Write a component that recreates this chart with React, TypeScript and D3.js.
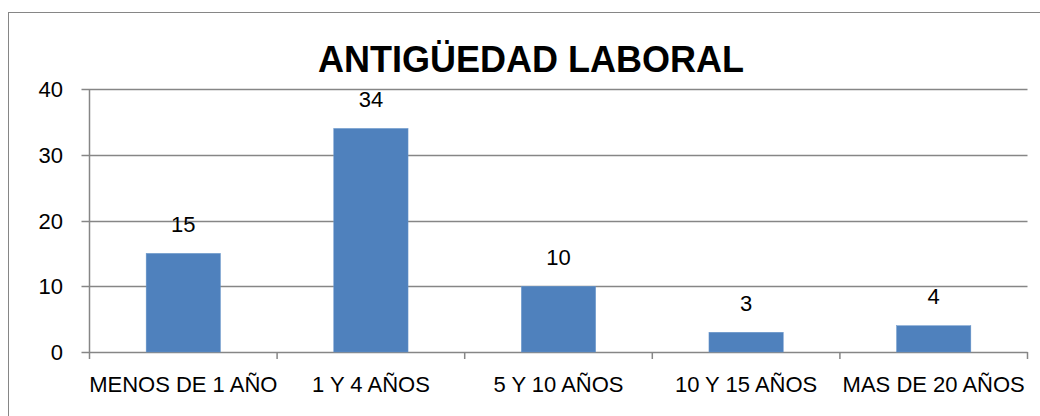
import * as d3 from "d3";

const categories = ["MENOS DE 1 AÑO", "1 Y 4 AÑOS", "5 Y 10 AÑOS", "10 Y 15 AÑOS", "MAS DE 20 AÑOS"];
const values = [15, 34, 10, 3, 4];
const yTicks = [0, 10, 20, 30, 40];
const title = "ANTIGÜEDAD LABORAL";

const W = 1040;
const H = 416;
const font = "'Liberation Sans', Arial, sans-serif";
const gray = "#868686";

export default function App() {
  const x = d3.scaleBand().domain(categories).range([89.5, 1027.5]).padding(0);
  const y = d3.scaleLinear().domain([0, 40]).range([352, 89]);
  const barW = x.bandwidth() * 0.396;
  const edges = [...categories.map((c) => x(c)!), x.range()[1]];

  return (
    <svg width={W} height={H} style={{ position: "absolute", left: 0, top: 0, background: "#fff" }}>
      <rect x={8.5} y={12.5} width={1100} height={500} fill="#fff" stroke={gray} strokeWidth={1} />
      <text x={531} y={72} textAnchor="middle" fontFamily={font} fontWeight="bold" fontSize={36} fill="#000">
        {title}
      </text>
      {yTicks.map((t) => (
        <g key={t}>
          <line x1={81.5} x2={1027.5} y1={Math.round(y(t)) + 0.5} y2={Math.round(y(t)) + 0.5} stroke={gray} strokeWidth={1.5} />
          <text x={63} y={y(t) + 8} textAnchor="end" fontFamily={font} fontSize={22} fill="#000">
            {t}
          </text>
        </g>
      ))}
      <line x1={89.5} x2={89.5} y1={y(40)} y2={y(0)} stroke={gray} strokeWidth={1.5} />
      {edges.map((e, i) => (
        <line key={i} x1={e} x2={e} y1={y(0)} y2={y(0) + 7} stroke={gray} strokeWidth={1.5} />
      ))}
      {categories.map((c, i) => {
        const cx = x(c)! + x.bandwidth() / 2;
        return (
          <g key={c}>
            <rect x={cx - barW / 2} y={y(values[i])} width={barW} height={y(0) - y(values[i])} fill="#4F81BD" stroke="#6b97cc" strokeWidth={0.5} />
            <text x={cx} y={y(values[i]) - 21.5} textAnchor="middle" fontFamily={font} fontSize={22} fill="#000">
              {values[i]}
            </text>
            <text x={cx} y={392} textAnchor="middle" fontFamily={font} fontSize={22} fill="#000">
              {c}
            </text>
          </g>
        );
      })}
    </svg>
  );
}
